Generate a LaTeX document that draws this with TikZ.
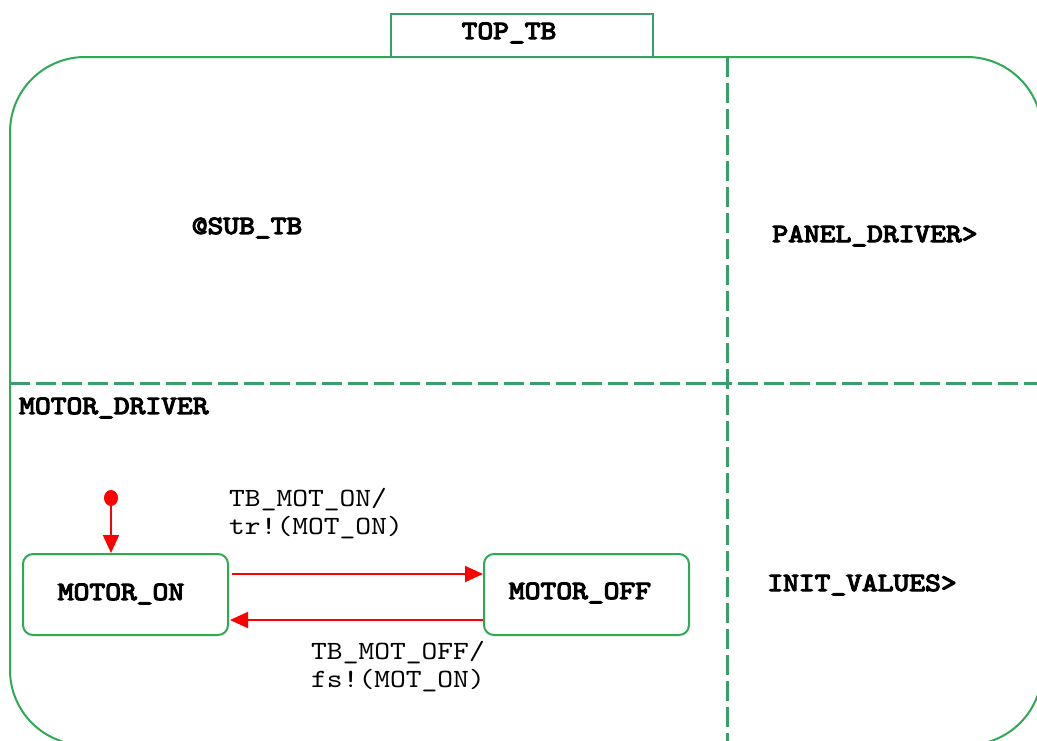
\documentclass[tikz,border=0pt]{standalone}
\usepackage{fontspec}
\newfontfamily\cour{lmmono10-regular.otf}[FakeStretch=1.143, BoldFont=lmmono10-regular.otf, BoldFeatures={FakeBold=4.5}]
\usetikzlibrary{arrows.meta,shapes.geometric}
\definecolor{frame}{HTML}{2EAA55}
\definecolor{dgreen}{HTML}{3A9E6A}
\definecolor{ared}{HTML}{FF0000}
\tikzset{
  hd/.style={font=\fontsize{26.3}{30}\selectfont\cour\bfseries, inner sep=0pt, text=black},
  lb/.style={font=\fontsize{26.3}{30}\selectfont\cour, inner sep=0pt, text=black, anchor=west},
  statebox/.style={draw=frame, line width=2pt, rounded corners=10pt, minimum width=205pt, minimum height=81pt, inner sep=0pt},
  divider/.style={draw=dgreen, line width=3pt, dash pattern=on 20pt off 6pt},
  trans/.style={draw=ared, line width=1.8pt, -{Triangle[length=18pt,width=16pt]}},
}
\begin{document}
\begin{tikzpicture}[x=1pt,y=-1pt]
\useasboundingbox (0,0) rectangle (1037,740);
\clip (0,0) rectangle (1037,740);
\fill[white] (0,0) rectangle (1037,740);
% outer frame
\draw[frame, line width=2pt, rounded corners=75pt] (10,57) rectangle (1042,745);
% dividers
\coordinate (vtop) at (727,57);
\coordinate (vbot) at (727,742);
\coordinate (hl) at (10,383);
\coordinate (hr) at (1040,383);
\path[divider] (vtop) -- (vbot);
\path[divider] (hl) -- (hr);
% title box
\node[draw=dgreen, line width=2.5pt, fill=white, minimum width=262pt, minimum height=43pt, inner sep=0pt] (topbox) at (522,35.5) {};
\node[hd] (toplbl) at (509,33) {TOP\_TB};
% region labels
\node[hd] (sub) at (247,228) {@SUB\_TB};
\node[hd] (panel) at (875,236) {PANEL\_DRIVER>};
\node[hd, anchor=west] (motdrv) at (19,408) {MOTOR\_DRIVER};
\node[hd] (init) at (862,585) {INIT\_VALUES>};
% states
\node[statebox] (on) at (125.5,594.5) {};
\node[hd] (onlbl) at (121,594) {MOTOR\_ON};
\node[statebox] (off) at (586.5,594.5) {};
\node[hd] (offlbl) at (580,593) {MOTOR\_OFF};
% initial
\node[fill=ared, ellipse, minimum width=14pt, minimum height=16pt, inner sep=0pt] (init0) at (111,498) {};
\draw[trans] (init0.south) -- (init0.south |- on.north);
% transitions
\draw[trans, shorten <=3pt] ([yshift=20.5pt]on.east) -- ([yshift=20.5pt]off.west);
\draw[trans, shorten >=1pt] ([yshift=-25.5pt]off.west) -- ([yshift=-25.5pt]on.east);
\node[lb] (t1a) at (229,500) {TB\_MOT\_ON/};
\node[lb] (t1b) at (229,528) {tr!(MOT\_ON)};
\node[lb] (t2a) at (311,653) {TB\_MOT\_OFF/};
\node[lb] (t2b) at (311,681) {fs!(MOT\_ON)};
\end{tikzpicture}
\end{document}
